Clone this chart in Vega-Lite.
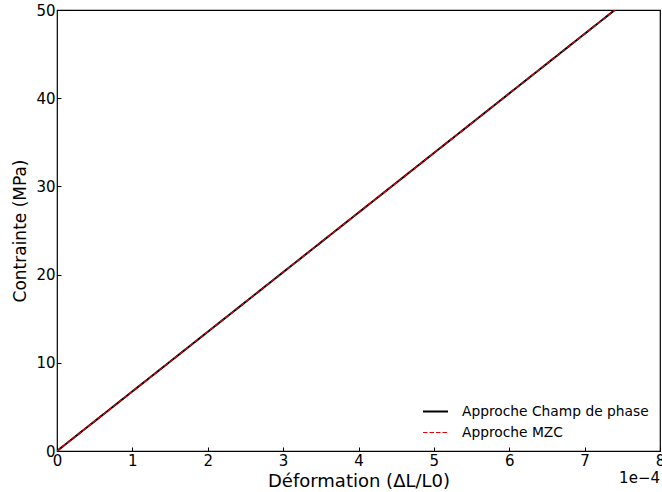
{
  "$schema": "https://vega.github.io/schema/vega-lite/v6.json",
  "width": 603,
  "height": 441,
  "autosize": {"type": "none"},
  "padding": {"left": 57, "top": 10, "right": 2, "bottom": 41},
  "config": {
    "font": "DejaVu Sans",
    "view": {"stroke": "black", "strokeWidth": 1.2},
    "axis": {"grid": false, "domain": false, "tickSize": -4, "tickColor": "black", "labelColor": "black", "titleColor": "black", "labelFontSize": 15, "titleFontSize": 17, "titleFontWeight": "normal", "labelFont": "DejaVu Sans", "titleFont": "DejaVu Sans", "labelFlush": false}
  },
  "datasets": {
    "curves": [
      {"strain": 0, "stress": 0, "serie": "Approche Champ de phase"},
      {"strain": 3.7, "stress": 25, "serie": "Approche Champ de phase"},
      {"strain": 7.4, "stress": 50, "serie": "Approche Champ de phase"},
      {"strain": 0, "stress": 0, "serie": "Approche MZC"},
      {"strain": 3.7, "stress": 25, "serie": "Approche MZC"},
      {"strain": 7.4, "stress": 50, "serie": "Approche MZC"}
    ]
  },
  "layer": [
    {
      "data": {"name": "curves"},
      "mark": {"type": "line", "clip": true},
      "encoding": {
        "x": {"field": "strain", "type": "quantitative", "scale": {"domain": [0, 8], "nice": false}, "axis": {"values": [0,1,2,3,4,5,6,7,8], "format": "d", "title": "Déformation (ΔL/L0)", "titleFontSize": 18, "labelPadding": 6, "titlePadding": 4}},
        "y": {"field": "stress", "type": "quantitative", "scale": {"domain": [0, 50], "nice": false}, "axis": {"values": [0,10,20,30,40,50], "format": "d", "title": "Contrainte (MPa)", "labelPadding": 6, "titlePadding": 6}},
        "color": {"field": "serie", "type": "nominal", "scale": {"domain": ["Approche Champ de phase", "Approche MZC"], "range": ["black", "#e8000b"]}, "legend": {"title": null, "orient": "bottom-right", "symbolType": "stroke", "symbolSize": 625, "labelFontSize": 13.8, "labelLimit": 0, "labelOffset": 13, "labelColor": "black", "offset": 11, "rowPadding": -5}},
        "strokeDash": {"field": "serie", "type": "nominal", "scale": {"domain": ["Approche Champ de phase", "Approche MZC"], "range": [[1, 0], [4.5, 2]]}, "legend": null},
        "strokeWidth": {"field": "serie", "type": "nominal", "scale": {"domain": ["Approche Champ de phase", "Approche MZC"], "range": [2, 1.2]}, "legend": null}
      }
    },
    {
      "data": {"values": [{"t": "1e−4"}]},
      "mark": {"type": "text", "align": "right", "baseline": "top", "fontSize": 15, "dy": 20, "dx": 0, "color": "black"},
      "encoding": {"x": {"datum": 8, "type": "quantitative"}, "y": {"datum": 0, "type": "quantitative"}, "text": {"field": "t"}}
    }
  ]
}
